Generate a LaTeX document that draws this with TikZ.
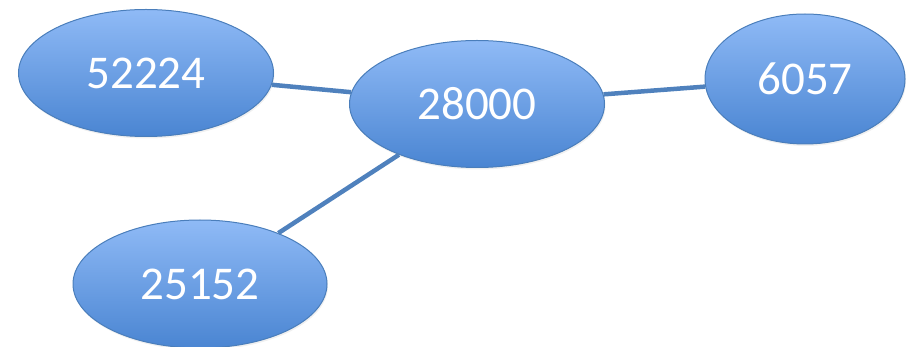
\documentclass[tikz,border=0pt]{standalone}
\usepackage{fontspec}
\setmainfont{Carlito}
\usetikzlibrary{shapes.geometric,shadows}

\definecolor{bleuhaut}{HTML}{8FBAF6}
\definecolor{bleubas}{HTML}{4A85D2}
\definecolor{bleubord}{HTML}{4A7EBB}
\definecolor{bleutrait}{HTML}{4F81BD}

\tikzset{
  valeur/.style={ellipse,draw=bleubord,line width=1pt,inner sep=0pt,
    top color=bleuhaut,bottom color=bleubas,text=white,
    font=\fontsize{47}{56}\selectfont,
    drop shadow={shadow xshift=1pt,shadow yshift=-2pt,opacity=.12}},
  lien/.style={draw=bleutrait,line width=4.5pt}
}

\begin{document}
\begin{tikzpicture}[x=1pt,y=-1pt]
\useasboundingbox (0,0) rectangle (907,347);
% les quatre valeurs
\node[valeur,minimum width=255pt,minimum height=127pt] (centre) at (477,104) {28000};
\node[valeur,minimum width=255pt,minimum height=127pt] (gauche) at (146,73) {52224};
\node[valeur,minimum width=200pt,minimum height=130pt] (droite) at (805,79) {6057};
\node[valeur,minimum width=254pt,minimum height=128pt] (bas) at (200,284) {25152};
% les liens partent tous du centre
\draw[lien] (gauche) -- (centre);
\draw[lien] (centre) -- (droite);
\draw[lien] (centre) -- (bas);
\end{tikzpicture}
\end{document}
